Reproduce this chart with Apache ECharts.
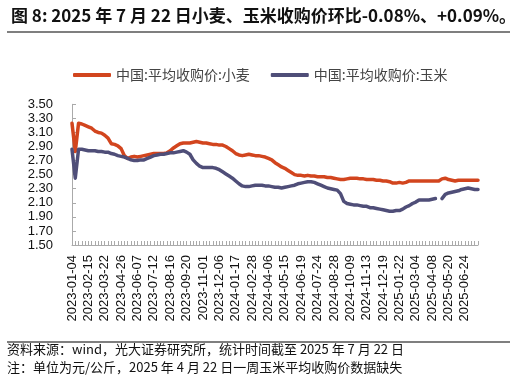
<!DOCTYPE html>
<html><head><meta charset="utf-8">
<script src="https://cdn.jsdelivr.net/npm/echarts@6/dist/echarts.min.js"></script>
<style>html,body{margin:0;padding:0;background:#fff}#c{width:516px;height:383px}</style>
</head><body><div id="c"></div>
<script>
const titleText = '图 8: 2025 年 7 月 22 日小麦、玉米收购价环比-0.08%、+0.09%。';
const footer1 = '资料来源：wind，光大证券研究所，统计时间截至 2025 年 7 月 22 日';
const footer2 = '注：单位为元/公斤，2025 年 4 月 22 日一周玉米平均收购价数据缺失';
const seriesNames = ['中国:平均收购价:小麦', '中国:平均收购价:玉米'];
const yTicks = ['1.50','1.70','1.90','2.10','2.30','2.50','2.70','2.90','3.10','3.30','3.50'];
const dates = [
'2023-01-04','2023-01-11','2023-01-18','2023-02-01','2023-02-08','2023-02-15',
'2023-02-22','2023-03-01','2023-03-08','2023-03-15','2023-03-22',
'2023-03-29','2023-04-05','2023-04-12','2023-04-19','2023-04-26',
'2023-05-10','2023-05-17','2023-05-24','2023-05-31','2023-06-07',
'2023-06-14','2023-06-21','2023-06-28','2023-07-05','2023-07-12',
'2023-07-19','2023-07-26','2023-08-02','2023-08-09','2023-08-16',
'2023-08-23','2023-08-30','2023-09-06','2023-09-13','2023-09-20',
'2023-09-27','2023-10-11','2023-10-18','2023-10-25','2023-11-01',
'2023-11-08','2023-11-15','2023-11-22','2023-11-29','2023-12-06',
'2023-12-13','2023-12-20','2024-01-03','2024-01-10','2024-01-17',
'2024-01-24','2024-01-31','2024-02-07','2024-02-21','2024-02-28',
'2024-03-06','2024-03-13','2024-03-20','2024-03-27','2024-04-06',
'2024-04-13','2024-04-20','2024-04-27','2024-05-08','2024-05-15',
'2024-05-22','2024-05-29','2024-06-05','2024-06-12','2024-06-19',
'2024-06-26','2024-07-03','2024-07-10','2024-07-17','2024-07-24',
'2024-07-31','2024-08-07','2024-08-14','2024-08-21','2024-08-28',
'2024-09-04','2024-09-11','2024-09-18','2024-09-25','2024-10-09',
'2024-10-16','2024-10-23','2024-10-30','2024-11-06','2024-11-13',
'2024-11-20','2024-11-27','2024-12-04','2024-12-11','2024-12-19',
'2024-12-25','2025-01-01','2025-01-08','2025-01-15','2025-01-22',
'2025-02-05','2025-02-12','2025-02-19','2025-02-26','2025-03-04',
'2025-03-11','2025-03-18','2025-03-25','2025-04-01','2025-04-08',
'2025-04-15','2025-04-22','2025-04-29','2025-05-13','2025-05-20',
'2025-05-27','2025-06-03','2025-06-10','2025-06-17','2025-06-24',
'2025-07-01','2025-07-08','2025-07-15','2025-07-22'
];
const wheat = [
3.23,2.83,3.23,3.22,3.20,3.18,3.16,3.12,3.10,3.09,
3.06,3.02,2.94,2.93,2.91,2.87,2.77,2.73,2.75,2.76,
2.75,2.76,2.77,2.78,2.79,2.80,2.80,2.80,2.80,2.81,
2.84,2.88,2.91,2.94,2.95,2.95,2.95,2.96,2.97,2.96,
2.95,2.95,2.94,2.93,2.93,2.92,2.92,2.90,2.87,2.84,
2.80,2.78,2.77,2.78,2.79,2.78,2.77,2.77,2.76,2.75,
2.73,2.71,2.67,2.64,2.61,2.59,2.56,2.53,2.50,2.49,
2.49,2.48,2.49,2.48,2.48,2.47,2.47,2.47,2.46,2.46,
2.45,2.44,2.43,2.43,2.44,2.45,2.45,2.45,2.44,2.44,
2.43,2.43,2.43,2.42,2.42,2.41,2.41,2.40,2.38,2.38,
2.39,2.38,2.39,2.41,2.41,2.41,2.41,2.41,2.41,2.41,
2.41,2.41,2.41,2.44,2.45,2.43,2.42,2.41,2.42,2.42,
2.42,2.42,2.42,2.42,2.42
];
const corn = [
2.86,2.45,2.86,2.86,2.85,2.84,2.84,2.84,2.83,2.83,
2.82,2.82,2.80,2.79,2.77,2.76,2.75,2.73,2.71,2.70,
2.70,2.71,2.71,2.73,2.75,2.77,2.78,2.79,2.79,2.80,
2.81,2.81,2.82,2.83,2.84,2.82,2.79,2.71,2.66,2.62,
2.60,2.60,2.60,2.60,2.59,2.57,2.54,2.51,2.48,2.45,
2.41,2.37,2.34,2.33,2.33,2.34,2.35,2.35,2.35,2.34,
2.34,2.33,2.32,2.32,2.31,2.32,2.33,2.34,2.35,2.37,
2.38,2.39,2.40,2.40,2.39,2.37,2.35,2.33,2.31,2.30,
2.29,2.28,2.23,2.12,2.09,2.08,2.07,2.07,2.06,2.05,
2.05,2.03,2.03,2.02,2.01,2.00,1.99,1.98,1.98,1.99,
1.99,2.01,2.04,2.06,2.09,2.11,2.14,2.14,2.14,2.14,
2.15,2.16,null,2.16,2.22,2.24,2.25,2.26,2.27,2.29,
2.30,2.31,2.30,2.29,2.29
];
const RED = '#D2451E', BLUE = '#4F4E78';
const chart = echarts.init(document.getElementById('c'));
const sans = '"Noto Sans CJK SC","Noto Sans",sans-serif';
chart.setOption({
  animation: false,
  backgroundColor: '#fff',
  title: {
    text: titleText, left: 6, top: 2,
    textStyle: { fontFamily: sans, fontSize: 17, fontWeight: 'bold', color: '#111' }
  },
  graphic: [
    { type: 'line', shape: { x1: 7, y1: 32, x2: 510, y2: 32 }, style: { stroke: '#000', lineWidth: 1.2 } },
    { type: 'line', shape: { x1: 7, y1: 342, x2: 510, y2: 342 }, style: { stroke: '#000', lineWidth: 1.2 } },
    { type: 'text', left: 7, top: 343, style: { text: footer1, font: '13px ' + sans, fill: '#111' } },
    { type: 'text', left: 7, top: 361, style: { text: footer2, font: '13px ' + sans, fill: '#111' } }
  ],
  legend: {
    top: 63, left: 68, itemGap: 21, itemWidth: 38, itemHeight: 4,
    icon: 'roundRect',
    textStyle: { fontFamily: sans, fontSize: 14, color: '#444' },
    data: seriesNames
  },
  grid: { left: 72, right: 38, top: 104.3, bottom: 138, containLabel: false },
  xAxis: {
    type: 'category', data: dates, boundaryGap: false,
    axisLine: { lineStyle: { color: '#aaa', width: 1 } },
    axisTick: { inside: true, length: 4, interval: 0, lineStyle: { color: '#aaa' } },
    axisLabel: { interval: 4, rotate: 90, fontFamily: 'Liberation Sans, Arial', fontSize: 13, color: '#111', margin: 10 }
  },
  yAxis: {
    type: 'value', min: 1.5, max: 3.5, interval: 0.2,
    axisLine: { show: true, lineStyle: { color: '#aaa' } },
    axisTick: { show: true, inside: true, length: 4, lineStyle: { color: '#aaa' } },
    splitLine: { show: false },
    axisLabel: {
      fontFamily: 'Liberation Sans, Arial', fontSize: 13, color: '#111', margin: 19,
      formatter: function (v) { return yTicks[Math.round((v - 1.5) / 0.2)]; }
    }
  },
  series: [
    { name: seriesNames[0], type: 'line', data: wheat, showSymbol: false, symbol: 'none',
      lineStyle: { color: RED, width: 3.5, cap: 'round', join: 'round' }, itemStyle: { color: RED } },
    { name: seriesNames[1], type: 'line', data: corn, showSymbol: false, symbol: 'none', connectNulls: false,
      lineStyle: { color: BLUE, width: 3.5, cap: 'round', join: 'round' }, itemStyle: { color: BLUE } }
  ]
});
</script></body></html>
